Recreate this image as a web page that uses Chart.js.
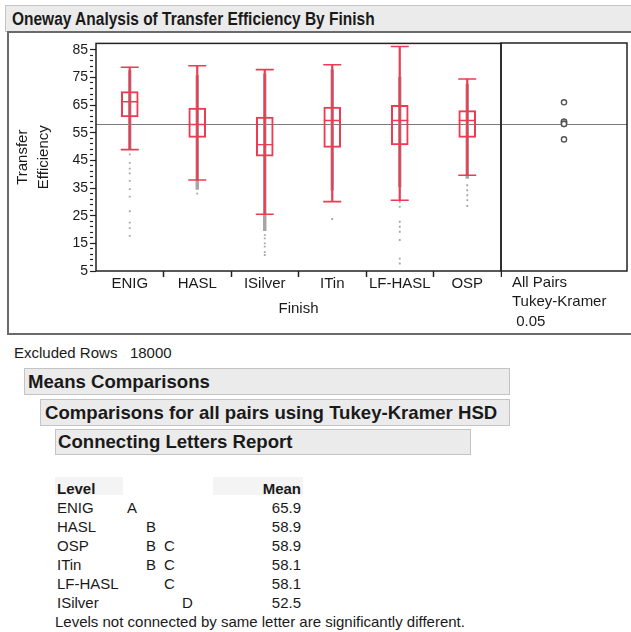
<!DOCTYPE html>
<html>
<head>
<meta charset="utf-8">
<script src="https://cdn.jsdelivr.net/npm/chart.js@4.4.0/dist/chart.umd.min.js"></script>
<style>
  body { margin: 0; background: #fff; font-family: "Liberation Sans", Arial, sans-serif; color: #1a1a1a; width: 631px; height: 632px; overflow: hidden; position: relative; }
  .abs { position: absolute; white-space: nowrap; }
  .hdr { position: absolute; background: #ebebeb; border: 1px solid #c4c4c4; font-weight: bold; font-size: 18.6px; box-sizing: border-box; white-space: nowrap; }
  .txt { position: absolute; white-space: nowrap; font-size: 15px; line-height: 15px; }
</style>
</head>
<body>
<div class="hdr" style="left:5px;top:5px;width:640px;height:27px;line-height:25px;padding-left:6px"><span style="display:inline-block;font-size:17.5px;transform:scaleX(0.885);transform-origin:0 50%">Oneway Analysis of Transfer Efficiency By Finish</span></div>
<div class="abs" style="left:7px;top:31px;width:640px;height:304px;border:2px solid #6a6a6a;box-sizing:border-box"></div>
<div class="abs" style="left:0;top:33px;width:502px;height:300px"><canvas id="c1"></canvas></div>
<div class="abs" style="left:500px;top:33px;width:131px;height:300px"><canvas id="c2"></canvas></div>

<div class="txt" style="left:14px;top:345px">Excluded Rows&nbsp;&nbsp; 18000</div>
<div class="hdr" style="left:24px;top:368px;width:486px;height:27px;line-height:25px;padding-left:3px">Means Comparisons</div>
<div class="hdr" style="left:40px;top:399px;width:470px;height:27px;line-height:25px;padding-left:4px">Comparisons for all pairs using Tukey-Kramer HSD</div>
<div class="hdr" style="left:55px;top:429px;width:416px;height:26px;line-height:24px;padding-left:2px">Connecting Letters Report</div>
<div id="table"></div>

<script>
// Box plot values (Transfer Efficiency by Finish)
const finishes = ['ENIG', 'HASL', 'ISilver', 'ITin', 'LF-HASL', 'OSP'];
const whiskerLow = [48.9, 37.9, 25.5, 30.1, 30.6, 39.6];
const q1 = [60.7, 53.3, 46.5, 49.7, 50.6, 53.3];
const median = [66.2, 58.0, 50.7, 59.4, 59.4, 59.4];
const q3 = [69.9, 63.9, 60.7, 64.3, 64.9, 63.0];
const whiskerHigh = [78.7, 79.2, 77.8, 79.6, 86.2, 74.4];
// range covered by the dense grey data points
const pointLow = [48.9, 34.5, 19.6, 34.2, 35.4, 38.5];
const pointHigh = [77.5, 75.7, 76.3, 77.8, 75.1, 72.6];
// separate grey points below / above the dense column
const enigPoints = [47.2, 44.1, 42.0, 40.3, 37.6, 34.6, 31.9, 26.6, 22.5, 20.5, 17.7];
const haslPoints = [33.0];
const isilverPoints = [18.0, 16.8, 15.0, 13.8, 11.8, 10.8];
const itinPoints = [32.4, 23.8];
const lfhaslPoints = [81.8, 76.9, 33.6, 31.8, 30.0, 28.2, 22.8, 21.0, 19.2, 16.2, 9.5, 7.7];
const ospPoints = [36.0, 34.2, 32.4, 30.6, 28.5];
const grandMean = 58.0;

const yTickLabels = [5, 15, 25, 35, 45, 55, 65, 75, 85];
const yMin = 5, yMax = 87.3;

// Connecting letters report
const levels = ['ENIG', 'HASL', 'OSP', 'ITin', 'LF-HASL', 'ISilver'];
const letters = [['A'], ['B'], ['B', 'C'], ['B', 'C'], ['C'], ['D']];
const levelMeans = [65.9, 58.9, 58.9, 58.1, 58.1, 52.5];
const letterNames = ['A', 'B', 'C', 'D'];

const red = '#ec3b52';
const grey = '#a6a6a6';
const textColor = '#1a1a1a';
const fontFamily = '"Liberation Sans", Arial, sans-serif';

const extraPoints = [];
[enigPoints, haslPoints, isilverPoints, itinPoints, lfhaslPoints, ospPoints].forEach((arr, i) => {
  arr.forEach(v => extraPoints.push({ x: finishes[i], y: v }));
});

const framePlugin = {
  id: 'frame',
  beforeDatasetsDraw(chart) {
    const ctx = chart.ctx, a = chart.chartArea;
    const y = chart.scales.y.getPixelForValue(grandMean);
    ctx.save();
    ctx.strokeStyle = '#7a7a7a';
    ctx.lineWidth = 1;
    ctx.beginPath();
    ctx.moveTo(a.left, Math.round(y) + 0.5);
    ctx.lineTo(a.right, Math.round(y) + 0.5);
    ctx.stroke();
    ctx.restore();
  },
  afterDraw(chart) {
    const ctx = chart.ctx, a = chart.chartArea;
    ctx.save();
    ctx.strokeStyle = '#222';
    ctx.lineWidth = 1.5;
    ctx.strokeRect(a.left, a.top, a.right - a.left, a.bottom - a.top);
    ctx.restore();
  }
};

const yTicks = [];
for (let v = yMin; v <= 85; v += 2) yTicks.push(v);

// x axis keeps a fixed height and no side padding so both panels line up
const fixX = s => { s.height = 62; s.paddingLeft = 0; s.paddingRight = 0; };

new Chart(document.getElementById('c1'), {
  type: 'bar',
  data: {
    labels: finishes,
    datasets: [
      { type: 'line', data: median, showLine: false, pointStyle: 'line', pointRadius: 8.5, borderColor: red, borderWidth: 1.4, order: 1 },
      { type: 'line', data: whiskerHigh, showLine: false, pointStyle: 'line', pointRadius: 9, borderColor: red, borderWidth: 1.6, order: 2 },
      { type: 'line', data: whiskerLow, showLine: false, pointStyle: 'line', pointRadius: 9, borderColor: red, borderWidth: 1.6, order: 2 },
      { type: 'bar', data: finishes.map((f, i) => [q1[i], q3[i]]), grouped: false, barThickness: 17,
        backgroundColor: 'rgba(0,0,0,0)', borderColor: red, borderWidth: 1.4, borderSkipped: false, order: 3 },
      { type: 'bar', data: finishes.map((f, i) => [whiskerLow[i], whiskerHigh[i]]), grouped: false, barThickness: 1.5,
        backgroundColor: red, order: 4 },
      { type: 'bar', data: finishes.map((f, i) => [pointLow[i], pointHigh[i]]), grouped: false, barThickness: 2.8,
        backgroundColor: grey, order: 5 },
      { type: 'line', data: extraPoints, showLine: false, pointStyle: 'rect', pointRadius: 1.3,
        pointBackgroundColor: grey, pointBorderWidth: 0, order: 6 }
    ]
  },
  options: {
    responsive: true,
    maintainAspectRatio: false,
    animation: false,
    events: [],
    layout: { autoPadding: false, padding: { top: 10, right: 1, left: 0, bottom: 0 } },
    plugins: { legend: { display: false }, tooltip: { enabled: false } },
    scales: {
      x: {
        offset: true,
        afterFit: fixX,
        border: { display: false },
        grid: {
          offset: true,
          drawOnChartArea: false,
          tickLength: 6,
          tickWidth: 1.5,
          tickColor: c => (c.index === 0 || c.index === finishes.length) ? 'rgba(0,0,0,0)' : '#222'
        },
        ticks: { color: textColor, padding: -2, maxRotation: 0, minRotation: 0, autoSkip: false, font: { family: fontFamily, size: 15 } },
        title: { display: true, text: 'Finish', color: textColor, font: { family: fontFamily, size: 15 }, padding: { top: 4, bottom: 15 } }
      },
      y: {
        min: yMin,
        max: yMax,
        afterBuildTicks: s => { s.ticks = yTicks.map(v => ({ value: v })); },
        afterFit: s => { s.width = 96; },
        border: { display: false },
        grid: {
          drawOnChartArea: false,
          tickLength: 6,
          tickColor: '#222',
          tickWidth: 1.2,
          tickBorderDash: c => (c.tick && yTickLabels.includes(c.tick.value)) ? [] : [3, 20]
        },
        ticks: {
          autoSkip: false,
          padding: 2,
          color: textColor,
          font: { family: fontFamily, size: 14 },
          callback: v => yTickLabels.includes(v) ? String(v) : ''
        },
        title: {
          display: true,
          text: ['Transfer', 'Efficiency'],
          color: textColor,
          font: { family: fontFamily, size: 15, lineHeight: 1.35 },
          padding: { top: 13, bottom: 0 }
        }
      }
    }
  },
  plugins: [framePlugin]
});

new Chart(document.getElementById('c2'), {
  type: 'line',
  data: {
    labels: [['All Pairs', 'Tukey-Kramer', ' 0.05']],
    datasets: [
      { data: levelMeans.map(v => ({ x: 0, y: v })), showLine: false, pointStyle: 'circle', pointRadius: 2.6,
        pointBackgroundColor: '#fff', pointBorderColor: '#555', pointBorderWidth: 1.4 }
    ]
  },
  options: {
    responsive: true,
    maintainAspectRatio: false,
    animation: false,
    events: [],
    layout: { autoPadding: false, padding: { top: 10, right: 4, left: 1, bottom: 0 } },
    plugins: { legend: { display: false }, tooltip: { enabled: false } },
    scales: {
      x: {
        offset: true,
        afterFit: fixX,
        border: { display: false },
        grid: { drawOnChartArea: false, tickLength: 6, tickColor: 'rgba(0,0,0,0)' },
        ticks: { color: textColor, padding: -4, maxRotation: 0, minRotation: 0, align: 'start', labelOffset: -52,
          font: { family: fontFamily, size: 15, lineHeight: 1.3 } }
      },
      y: { display: false, min: yMin, max: yMax }
    }
  },
  plugins: [framePlugin]
});

// connecting letters table
const table = document.getElementById('table');
function addText(txt, left, baseline, opts) {
  const d = document.createElement('div');
  d.className = 'txt';
  d.textContent = txt;
  d.style.top = (baseline - 13) + 'px';
  if (opts && opts.right !== undefined) { d.style.right = (631 - opts.right) + 'px'; } else { d.style.left = left + 'px'; }
  if (opts && opts.bold) d.style.fontWeight = 'bold';
  table.appendChild(d);
}
function addShade(left, width) {
  const d = document.createElement('div');
  d.className = 'abs';
  d.style.cssText = 'left:' + left + 'px;top:477px;width:' + width + 'px;height:18px;background:#f4f4f4';
  table.appendChild(d);
}
addShade(55, 68);
addShade(213, 90);
addText('Level', 57, 494, { bold: true });
addText('Mean', 0, 494, { bold: true, right: 301 });
const letterX = [127, 146, 164, 182];
levels.forEach((lv, i) => {
  const base = 513 + i * 18.9;
  addText(lv, 57, base);
  letters[i].forEach(l => addText(l, letterX[letterNames.indexOf(l)], base));
  addText(levelMeans[i].toFixed(1), 0, base, { right: 301 });
});
addText('Levels not connected by same letter are significantly different.', 55, 627);
</script>
</body>
</html>
